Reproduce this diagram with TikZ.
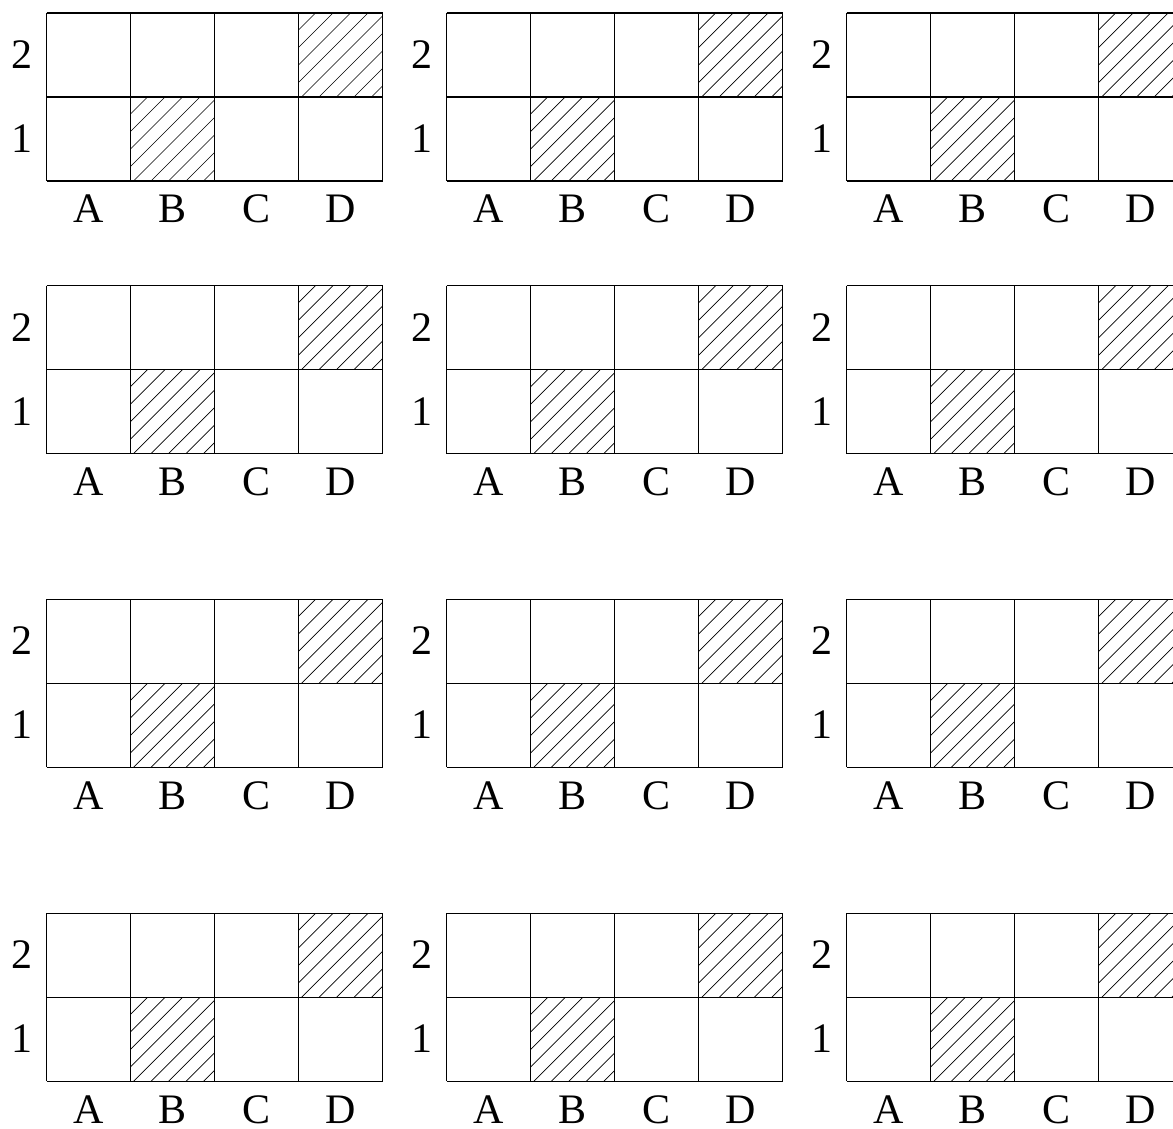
\documentclass[tikz,border=0pt]{standalone}
\usepackage{fontspec}
\setmainfont{Liberation Serif}
\begin{document}
\begin{tikzpicture}[x=0.5pt, y=-0.5pt,
    gridline/.style={line width=0.55pt, black},
    hatchline/.style={line width=0.35pt, black},
    every node/.style={font=\fontsize{21}{25}\selectfont, inner sep=0pt, anchor=base}]
  \useasboundingbox (0,0) rectangle (1173,1129);
  \foreach \gx [count=\i] in {46.5,446.7,846.7}{
    \foreach \gy [count=\j] in {13,285.7,599.3,913.3}{
      % hatched cells: B1 and D2
      \foreach \cx/\cy in {84/168,252/84}{
        \begin{scope}
          \clip (\gx+\cx,\gy+\cy) rectangle ++(84,-84);
          \foreach \c in {-67,-49.5,...,74}{\draw[hatchline] (\gx+\cx+\c,\gy+\cy) -- ++(84,-84);}
        \end{scope}
      }
      % cell borders
      \foreach \k in {0,84,...,336}{\draw[gridline] (\gx+\k,\gy) -- (\gx+\k,\gy+168);}
      \foreach \k in {0,84,168}{\draw[gridline] (\gx,\gy+\k) -- (\gx+336,\gy+\k);}
      % labels
      \foreach \lab [count=\n] in {A,B,C,D}{\node (col-\lab-\i-\j) at (\gx+84*\n-42,\gy+209.8) {\lab};}
      \node (row2-\i-\j) at (\gx-24.8,\gy+55.3) {2};
      \node (row1-\i-\j) at (\gx-24.8,\gy+139.3) {1};
    }
  }
\end{tikzpicture}
\end{document}
